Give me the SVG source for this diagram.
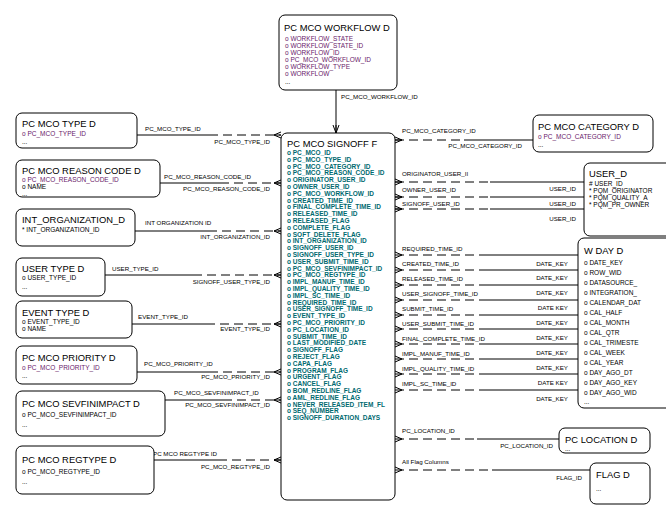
<svg xmlns="http://www.w3.org/2000/svg" width="666" height="509" viewBox="0 0 666 509">
<style>
.box{fill:#fff;stroke:#000;stroke-width:1}
.t{font-family:"Liberation Sans",Arial,sans-serif;font-size:9.4px;fill:#000}
.a{font-family:"Liberation Sans",Arial,sans-serif;font-size:6.5px;fill:#000}
.p{fill:#6a1a6a}
.c{fill:#006a70;font-weight:bold}
.l{font-family:"Liberation Sans",Arial,sans-serif;font-size:6.2px;fill:#000}
.s{stroke:#000;stroke-width:1;fill:none}
.d{stroke:#000;stroke-width:1;fill:none;stroke-dasharray:9,5}
</style>
<g id="connectors">
<line class="s" x1="336" y1="90" x2="336" y2="133"/>
<path d="M333,125 L336,133 L339,125 M336,125 L336,133" class="s"/>
<text class="l" x="341" y="99">PC_MCO_WORKFLOW_ID</text>
<g>
<line class="s" x1="137" y1="135" x2="209" y2="135"/><line class="d" x1="209" y1="135" x2="281" y2="135"/>
<path d="M281,132 L274,135 L281,138 M274,135 L281,135" class="s"/>
<text class="l" x="145" y="131">PC_MCO_TYPE_ID</text><text class="l" x="270" y="144" text-anchor="end">PC_MCO_TYPE_ID</text>
<line class="s" x1="160" y1="183" x2="220" y2="183"/><line class="d" x1="220" y1="183" x2="281" y2="183"/>
<path d="M281,180 L274,183 L281,186 M274,183 L281,183" class="s"/>
<text class="l" x="164" y="179">PC_MCO_REASON_CODE_ID</text><text class="l" x="270" y="191" text-anchor="end">PC_MCO_REASON_CODE_ID</text>
<line class="s" x1="135" y1="231" x2="208" y2="231"/><line class="d" x1="208" y1="231" x2="281" y2="231"/>
<path d="M281,228 L274,231 L281,234 M274,231 L281,231" class="s"/>
<text class="l" x="145" y="225">INT ORGANIZATION ID</text><text class="l" x="270" y="239" text-anchor="end">INT_ORGANIZATION_ID</text>
<line class="s" x1="105" y1="275" x2="193" y2="275"/><line class="d" x1="193" y1="275" x2="281" y2="275"/>
<path d="M281,272 L274,275 L281,278 M274,275 L281,275" class="s"/>
<text class="l" x="112" y="271">USER_TYPE_ID</text><text class="l" x="270" y="284" text-anchor="end">SIGNOFF_USER_TYPE_ID</text>
<line class="s" x1="132" y1="324" x2="206" y2="324"/><line class="d" x1="206" y1="324" x2="281" y2="324"/>
<path d="M281,321 L274,324 L281,327 M274,324 L281,324" class="s"/>
<text class="l" x="138" y="319">EVENT_TYPE_ID</text><text class="l" x="270" y="331" text-anchor="end">EVENT_TYPE_ID</text>
<line class="s" x1="137" y1="372" x2="209" y2="372"/><line class="d" x1="209" y1="372" x2="281" y2="372"/>
<path d="M281,369 L274,372 L281,375 M274,372 L281,372" class="s"/>
<text class="l" x="144" y="366">PC_MCO_PRIORITY_ID</text><text class="l" x="270" y="379" text-anchor="end">PC_MCO_PRIORITY_ID</text>
<line class="s" x1="165" y1="400" x2="223" y2="400"/><line class="d" x1="223" y1="400" x2="281" y2="400"/>
<path d="M281,397 L274,400 L281,403 M274,400 L281,400" class="s"/>
<text class="l" x="174" y="395">PC_MCO_SEVFINIMPACT_ID</text><text class="l" x="270" y="407" text-anchor="end">PC_MCO_SEVFINIMPACT_ID</text>
<line class="s" x1="154" y1="460" x2="218" y2="460"/><line class="d" x1="218" y1="460" x2="281" y2="460"/>
<path d="M281,457 L274,460 L281,463 M274,460 L281,460" class="s"/>
<text class="l" x="153" y="456">PC MCO REGTYPE ID</text><text class="l" x="270" y="469" text-anchor="end">PC_MCO_REGTYPE_ID</text>
</g>
<g>
<line class="d" x1="395" y1="140" x2="464" y2="140"/><line class="s" x1="464" y1="140" x2="533" y2="140"/>
<path d="M395,137 L402,140 L395,143 M395,140 L402,140" class="s"/>
<text class="l" x="402" y="133">PC_MCO_CATEGORY_ID</text><text class="l" x="522" y="148" text-anchor="end">PC_MCO_CATEGORY_ID</text>
</g>
<g>
<line class="d" x1="395" y1="182" x2="490" y2="182"/><line class="s" x1="490" y1="182" x2="584" y2="182"/>
<path d="M395,179 L402,182 L395,185 M395,182 L402,182" class="s"/>
<text class="l" x="402" y="176">ORIGINATOR_USER_II</text><text class="l" x="576" y="191" text-anchor="end">USER_ID</text>
<line class="d" x1="395" y1="197" x2="490" y2="197"/><line class="s" x1="490" y1="197" x2="584" y2="197"/>
<path d="M395,194 L402,197 L395,200 M395,197 L402,197" class="s"/>
<text class="l" x="402" y="192">OWNER_USER_ID</text><text class="l" x="576" y="206" text-anchor="end">USER_ID</text>
<line class="d" x1="395" y1="209" x2="490" y2="209"/><line class="s" x1="490" y1="209" x2="584" y2="209"/>
<path d="M395,206 L402,209 L395,212 M395,209 L402,209" class="s"/>
<text class="l" x="402" y="206">SIGNOFF_USER_ID</text><text class="l" x="576" y="221" text-anchor="end">USER_ID</text>
</g>
<g>
<path class="d" d="M395,255H487M395,270H487M395,285H487M395,300H487M395,315H487M395,329H487M395,344H487M395,359H487M395,374H487M395,390H487"/>
<path class="s" d="M487,255H578M487,270H578M487,285H578M487,300H578M487,315H578M487,329H578M487,344H578M487,359H578M487,374H578M487,390H578"/>
<path class="s" d="M395,252L402,255L395,258M395,267L402,270L395,273M395,282L402,285L395,288M395,297L402,300L395,303M395,312L402,315L395,318M395,326L402,329L395,332M395,341L402,344L395,347M395,356L402,359L395,362M395,371L402,374L395,377M395,387L402,390L395,393"/>
<text class="l" x="402" y="251">REQUIRED_TIME_ID</text>
<text class="l" x="402" y="266">CREATED_TIME_ID</text>
<text class="l" x="402" y="281">RELEASED_TIME_ID</text>
<text class="l" x="402" y="296">USER_SIGNOFF_TIME_ID</text>
<text class="l" x="402" y="311">SUBMIT_TIME_ID</text>
<text class="l" x="402" y="326">USER_SUBMIT_TIME_ID</text>
<text class="l" x="402" y="341">FINAL_COMPLETE_TIME_ID</text>
<text class="l" x="402" y="356">IMPL_MANUF_TIME_ID</text>
<text class="l" x="402" y="371">IMPL_QUALITY_TIME_ID</text>
<text class="l" x="402" y="386">IMPL_SC_TIME_ID</text>
<g text-anchor="end">
<text class="l" x="568" y="266">DATE_KEY</text>
<text class="l" x="568" y="280">DATE_KEY</text>
<text class="l" x="568" y="295">DATE_KEY</text>
<text class="l" x="568" y="310">DATE KEY</text>
<text class="l" x="568" y="325">DATE_KEY</text>
<text class="l" x="568" y="340">DATE_KEY</text>
<text class="l" x="568" y="355">DATE_KEY</text>
<text class="l" x="568" y="370">DATE_KEY</text>
<text class="l" x="568" y="385">DATE KEY</text>
<text class="l" x="568" y="401">DATE_KEY</text>
</g>
</g>
<g>
<line class="d" x1="395" y1="439" x2="477" y2="439"/><line class="s" x1="477" y1="439" x2="559" y2="439"/>
<path d="M395,436 L402,439 L395,442" class="s"/>
<text class="l" x="402" y="433">PC_LOCATION_ID</text><text class="l" x="553" y="448" text-anchor="end">PC_LOCATION_ID</text>
<line class="d" x1="395" y1="470" x2="492" y2="470"/><line class="s" x1="492" y1="470" x2="590" y2="470"/>
<path d="M395,467 L402,470 L395,473" class="s"/>
<text class="l" x="402" y="464">All Flag Columns</text><text class="l" x="582" y="480" text-anchor="end">FLAG_ID</text>
</g>
</g>
<g id="workflow">
<rect class="box" x="279" y="15" width="118" height="75" rx="6"/>
<text class="t" x="284" y="31">PC MCO WORKFLOW D</text>
<g class="a p"><text x="285" y="41">o  WORKFLOW_STATE</text><text x="285" y="48">o  WORKFLOW_STATE_ID</text><text x="285" y="55">o  WORKFLOW_ID</text><text x="285" y="62">o  PC_MCO_WORKFLOW_ID</text><text x="285" y="69">o  WORKFLOW_TYPE</text><text x="285" y="76">o  WORKFLOW</text><text x="285" y="84" fill="#000">...</text></g>
</g>
<g id="signoff">
<rect class="box" x="281" y="133" width="114" height="367" rx="6"/>
<text class="t" x="287" y="147">PC MCO SIGNOFF F</text>
<g class="a c">
<text x="287" y="155">o  PC_MCO_ID</text>
<text x="287" y="161.8">o  PC_MCO_TYPE_ID</text>
<text x="287" y="168.6">o  PC_MCO_CATEGORY_ID</text>
<text x="287" y="175.4">o  PC_MCO_REASON_CODE_ID</text>
<text x="287" y="182.2">o  ORIGINATOR_USER_ID</text>
<text x="287" y="189">o  OWNER_USER_ID</text>
<text x="287" y="195.8">o  PC_MCO_WORKFLOW_ID</text>
<text x="287" y="202.6">o  CREATED_TIME_ID</text>
<text x="287" y="209.4">o  FINAL_COMPLETE_TIME_ID</text>
<text x="287" y="216.2">o  RELEASED_TIME_ID</text>
<text x="287" y="223">o  RELEASED_FLAG</text>
<text x="287" y="229.8">o  COMPLETE_FLAG</text>
<text x="287" y="236.6">o  SOFT_DELETE_FLAG</text>
<text x="287" y="243.4">o  INT_ORGANIZATION_ID</text>
<text x="287" y="250.2">o  SIGNOFF_USER_ID</text>
<text x="287" y="257">o  SIGNOFF_USER_TYPE_ID</text>
<text x="287" y="263.8">o  USER_SUBMIT_TIME_ID</text>
<text x="287" y="270.6">o  PC_MCO_SEVFINIMPACT_ID</text>
<text x="287" y="277.4">o  PC_MCO_REGTYPE_ID</text>
<text x="287" y="284.2">o  IMPL_MANUF_TIME_ID</text>
<text x="287" y="291">o  IMPL_QUALITY_TIME_ID</text>
<text x="287" y="297.8">o  IMPL_SC_TIME_ID</text>
<text x="287" y="304.6">o  REQUIRED_TIME_ID</text>
<text x="287" y="311.4">o  USER_SIGNOFF_TIME_ID</text>
<text x="287" y="318.2">o  EVENT_TYPE_ID</text>
<text x="287" y="325">o  PC_MCO_PRIORITY_ID</text>
<text x="287" y="331.8">o  PC_LOCATION_ID</text>
<text x="287" y="338.6">o  SUBMIT_TIME_ID</text>
<text x="287" y="345.4">o  LAST_MODIFIED_DATE</text>
<text x="287" y="352.2">o  SIGNOFF_FLAG</text>
<text x="287" y="359">o  REJECT_FLAG</text>
<text x="287" y="365.8">o  CAPA_FLAG</text>
<text x="287" y="372.6">o  PROGRAM_FLAG</text>
<text x="287" y="379.4">o  URGENT_FLAG</text>
<text x="287" y="386.2">o  CANCEL_FLAG</text>
<text x="287" y="393">o  BOM_REDLINE_FLAG</text>
<text x="287" y="399.8">o  AML_REDLINE_FLAG</text>
<text x="287" y="406.6">o  NEVER_RELEASED_ITEM_FL</text>
<text x="287" y="413.4">o  SEQ_NUMBER</text>
<text x="287" y="420.2">o  SIGNOFF_DURATION_DAYS</text>
</g>
</g>
<g id="type">
<rect class="box" x="16" y="113" width="121" height="35" rx="6"/>
<text class="t" x="22" y="127">PC MCO TYPE D</text>
<text class="a p" x="22" y="136">o  PC_MCO_TYPE_ID</text><text class="a" x="22" y="144">...</text>
</g>
<g id="reason">
<rect class="box" x="16" y="160" width="144" height="37" rx="6"/>
<text class="t" x="22" y="174">PC MCO REASON CODE D</text>
<text class="a p" x="22" y="182">o  PC_MCO_REASON_CODE_ID</text><text class="a" x="22" y="189">o  NAME</text><text class="a" x="22" y="196">...</text>
</g>
<g id="intorg">
<rect class="box" x="16" y="209" width="119" height="37" rx="6"/>
<text class="t" x="22" y="223">INT_ORGANIZATION_D</text>
<text class="a" x="22" y="232">*  INT_ORGANIZATION_ID</text>
</g>
<g id="usertype">
<rect class="box" x="16" y="258" width="89" height="38" rx="6"/>
<text class="t" x="22" y="272">USER TYPE D</text>
<text class="a" x="22" y="280">o  USER_TYPE_ID</text><text class="a" x="22" y="289">...</text>
</g>
<g id="eventtype">
<rect class="box" x="16" y="301" width="116" height="37" rx="6"/>
<text class="t" x="22" y="316">EVENT TYPE D</text>
<text class="a" x="22" y="324">o  EVENT_TYPE_ID</text><text class="a" x="22" y="331">o  NAME</text>
</g>
<g id="priority">
<rect class="box" x="16" y="346" width="121" height="38" rx="6"/>
<text class="t" x="22" y="361">PC MCO PRIORITY D</text>
<text class="a p" x="22" y="370">o  PC_MCO_PRIORITY_ID</text><text class="a" x="22" y="378">...</text>
</g>
<g id="sevfinimpact">
<rect class="box" x="16" y="391" width="149" height="45" rx="6"/>
<text class="t" x="22" y="407">PC MCO SEVFINIMPACT D</text>
<text class="a" x="22" y="417">o  PC_MCO_SEVFINIMPACT_ID</text><text class="a" x="22" y="427">...</text>
</g>
<g id="regtype">
<rect class="box" x="16" y="446" width="138" height="48" rx="6"/>
<text class="t" x="22" y="463">PC MCO REGTYPE D</text>
<text class="a" x="22" y="474">o  PC_MCO_REGTYPE_ID</text><text class="a" x="22" y="484">...</text>
</g>
<g id="category">
<rect class="box" x="533" y="115" width="120" height="37" rx="6"/>
<text class="t" x="538" y="130">PC MCO CATEGORY D</text>
<text class="a p" x="538" y="139">o  PC_MCO_CATEGORY_ID</text><text class="a" x="538" y="147">...</text>
</g>
<g id="user">
<rect class="box" x="584" y="163" width="90" height="73" rx="6"/>
<text class="t" x="589" y="177">USER_D</text>
<g class="a"><text x="589" y="186">#  USER_ID</text><text x="589" y="193">*  PQM_ORIGINATOR</text><text x="589" y="200">*  PQM_QUALITY_A</text><text x="589" y="207">*  PQM_PR_OWNER</text></g>
</g>
<g id="wday">
<rect class="box" x="578" y="238" width="96" height="170" rx="6"/>
<text class="t" x="584" y="254" font-size="8.5">W DAY D</text>
<g class="a"><text x="584" y="265">o DATE_KEY</text><text x="584" y="275">o ROW_WID</text><text x="584" y="285">o DATASOURCE_</text><text x="584" y="295">o INTEGRATION_</text><text x="584" y="305">o CALENDAR_DAT</text><text x="584" y="315">o CAL_HALF</text><text x="584" y="325">o CAL_MONTH</text><text x="584" y="335">o CAL_QTR</text><text x="584" y="345">o CAL_TRIMESTE</text><text x="584" y="355">o CAL_WEEK</text><text x="584" y="365">o CAL_YEAR</text><text x="584" y="375">o DAY_AGO_DT</text><text x="584" y="385">o DAY_AGO_KEY</text><text x="584" y="395">o DAY_AGO_WID</text><text x="584" y="404">...</text></g>
</g>
<g id="location">
<rect class="box" x="559" y="428" width="91" height="25" rx="6"/>
<text class="t" x="565" y="443">PC LOCATION D</text><text class="a" x="565" y="451">...</text>
</g>
<g id="flag">
<rect class="box" x="590" y="463" width="60" height="41" rx="6"/>
<text class="t" x="596" y="478">FLAG D</text><text class="a" x="596" y="491">...</text>
</g>
</svg>
